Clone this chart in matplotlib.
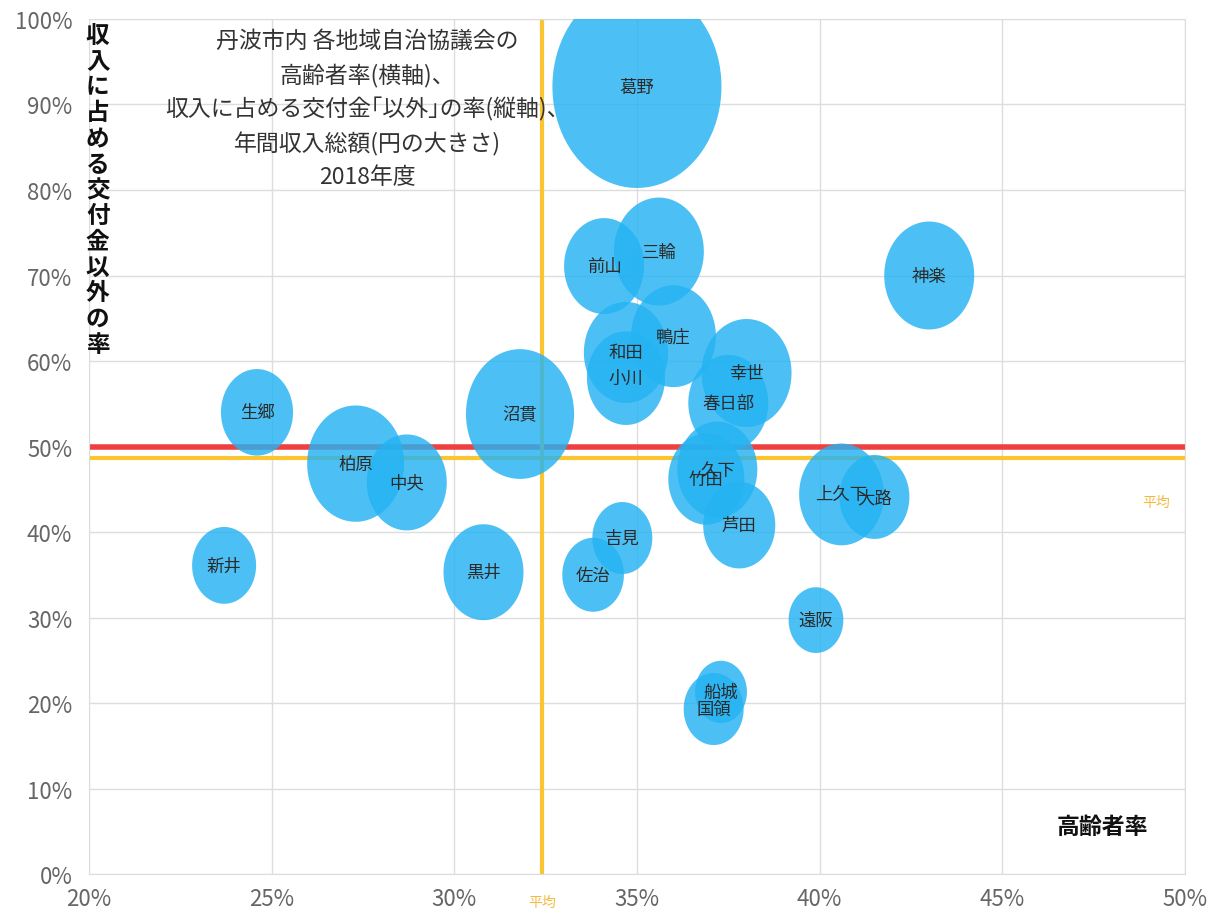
import numpy as np
import matplotlib.pyplot as plt
from matplotlib.path import Path
from matplotlib.ticker import FuncFormatter

plt.rcParams['font.family'] = ['Noto Sans CJK JP', 'DejaVu Sans']

# 地域名, 高齢者率(%), 交付金以外の率(%), 年間収入総額(相対値)
names = ['葛野', '神楽', '三輪', '前山', '鴨庄', '和田', '小川', '幸世', '春日部',
         '竹田', '久下', '芦田', '上久下', '大路', '遠阪', '船城', '国領', '吉見',
         '佐治', '黒井', '沼貫', '生郷', '柏原', '中央', '新井']
elderly = [35.0, 43.0, 35.6, 34.1, 36.0, 34.7, 34.7, 38.0, 37.5,
           36.9, 37.2, 37.8, 40.6, 41.5, 39.9, 37.3, 37.1, 34.6,
           33.8, 30.8, 31.8, 24.6, 27.3, 28.7, 23.7]
other_rate = [92.1, 70.0, 72.8, 71.1, 62.9, 61.0, 58.0, 58.6, 55.1,
              46.2, 47.3, 40.8, 44.4, 44.1, 29.7, 21.3, 19.3, 39.3,
              35.0, 35.3, 53.8, 54.0, 48.0, 45.8, 36.1]
income = [286, 81, 81, 64, 72, 71, 61, 81, 64,
          58, 64, 52, 72, 49, 30, 27, 36, 36,
          38, 64, 117, 52, 94, 64, 41]

avg_elderly = 32.4
avg_other = 48.6
line_50 = 50

xticks = [20, 25, 30, 35, 40, 45, 50]
yticks = [0, 10, 20, 30, 40, 50, 60, 70, 80, 90, 100]

fig = plt.figure(figsize=(12.1, 9.12), dpi=100)
ax = fig.add_axes([0.0735, 0.0405, 0.9058, 0.9376])

# 縦長の楕円マーカー
t = np.linspace(0, 2 * np.pi, 100)
ell = Path(np.column_stack([np.cos(t) / 1.2, np.sin(t)]))

sizes = np.array(income) * 74.6
ax.scatter(elderly, other_rate, s=sizes, marker=ell, color='#24b3f2',
           alpha=0.82, linewidths=0, zorder=3)
for n, x, y in zip(names, elderly, other_rate):
    ax.text(x, y, n, ha='center', va='center', fontsize=12.5, color='#2a2a2a', zorder=4)

ax.axhline(line_50, color='#ef4040', lw=4, zorder=2)
ax.axhline(avg_other, color='#fbc531', lw=3, zorder=2)
ax.axvline(avg_elderly, color='#fbc531', lw=3, zorder=2)
ax.text(49.2, avg_other - 5.6, '平均', color='#f5b942', fontsize=10, ha='center')
ax.text(avg_elderly, -3.3, '平均', color='#f5b942', fontsize=10, ha='center',
        va='center', clip_on=False)

ax.set_xlim(20, 50)
ax.set_ylim(0, 100)
ax.set_xticks(xticks)
ax.set_yticks(yticks)
pct = FuncFormatter(lambda v, p: '%d%%' % v)
ax.xaxis.set_major_formatter(pct)
ax.yaxis.set_major_formatter(pct)
ax.tick_params(length=0, labelsize=16, labelcolor='#666666')
ax.tick_params(axis='x', pad=9)
ax.tick_params(axis='y', pad=12)
ax.grid(color='#dddddd', lw=1)
ax.set_axisbelow(True)
for s in ax.spines.values():
    s.set_color('#dddddd')

title = ('丹波市内 各地域自治協議会の\n高齢者率(横軸)、\n'
         '収入に占める交付金｢以外｣の率(縦軸)、\n年間収入総額(円の大きさ)\n2018年度')
ax.text(0.254, 0.988, title, transform=ax.transAxes, ha='center', va='top',
        fontsize=16.5, color='#333333', linespacing=1.53)

ylab = '収入に占める交付金以外の率'
ax.text(0.008, 0.995, '\n'.join(ylab), transform=ax.transAxes, ha='center', va='top',
        fontsize=17, fontweight='bold', color='#111111', linespacing=1.09)
ax.text(0.925, 0.056, '高齢者率', transform=ax.transAxes, ha='center', va='center',
        fontsize=16.5, fontweight='bold', color='#111111')

fig.savefig('out.png', dpi=100)
